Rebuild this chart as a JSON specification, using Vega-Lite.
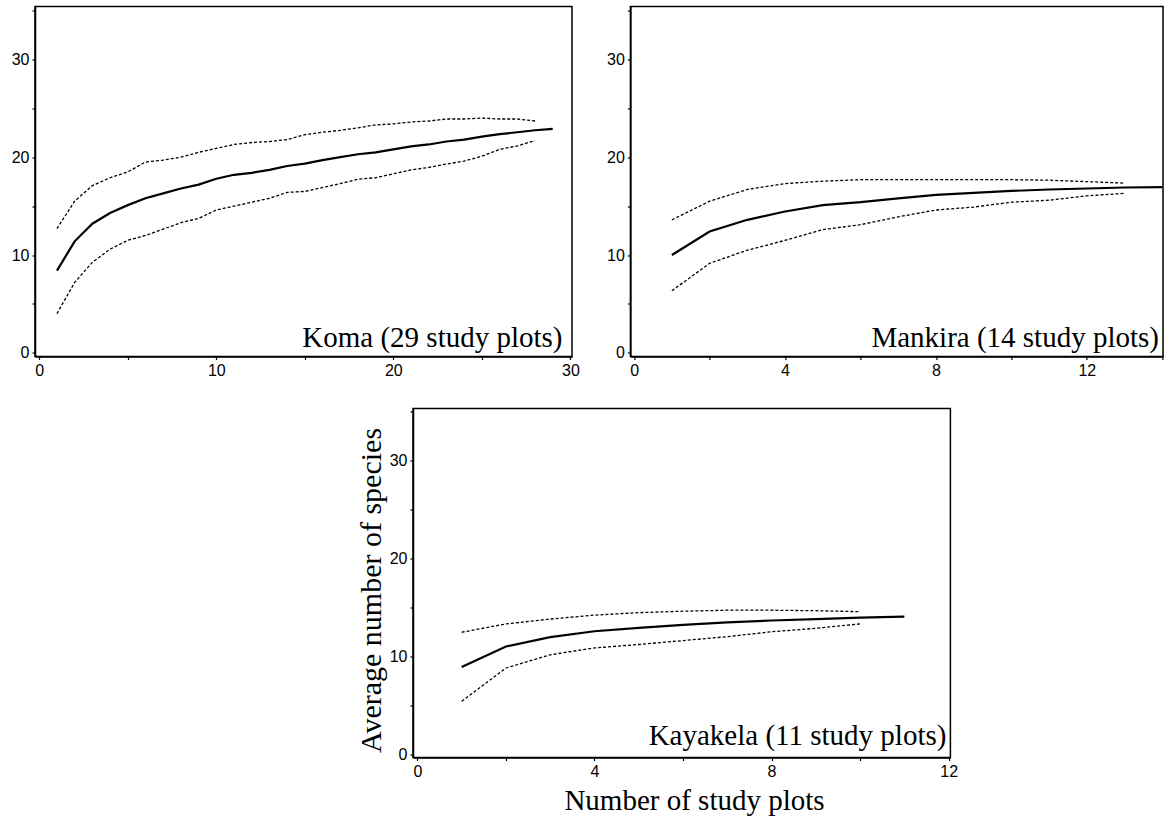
{
  "$schema": "https://vega.github.io/schema/vega-lite/v6.json",
  "background": "white",
  "padding": {"left": 10, "top": 1.5, "right": 4, "bottom": 0},
  "config": {
    "view": {"stroke": "black", "strokeWidth": 1.5},
    "axis": {
      "grid": false, "domainColor": "black", "domainWidth": 1.5, "tickColor": "black", "tickWidth": 1.2, "tickSize": 3,
      "labelColor": "black", "labelFont": "Liberation Sans", "labelFontSize": 16, "labelPadding": 3,
      "labelFlush": false, "labelOverlap": false, "titleColor": "black", "titleFont": "Liberation Serif",
      "titleFontSize": 29, "titleFontWeight": "normal"
    },
    "line": {"color": "black"}
  },
  "datasets": {
    "koma": [
      {"n": 1, "mean": 8.4, "upper": 12.7, "lower": 4.0},
      {"n": 2, "mean": 11.4, "upper": 15.5, "lower": 7.2},
      {"n": 3, "mean": 13.2, "upper": 17.1, "lower": 9.25},
      {"n": 4, "mean": 14.3, "upper": 17.9, "lower": 10.6},
      {"n": 5, "mean": 15.1, "upper": 18.5, "lower": 11.5},
      {"n": 6, "mean": 15.8, "upper": 19.5, "lower": 12.0},
      {"n": 7, "mean": 16.3, "upper": 19.7, "lower": 12.65},
      {"n": 8, "mean": 16.8, "upper": 20.0, "lower": 13.3},
      {"n": 9, "mean": 17.2, "upper": 20.5, "lower": 13.75},
      {"n": 10, "mean": 17.8, "upper": 20.9, "lower": 14.6},
      {"n": 11, "mean": 18.2, "upper": 21.3, "lower": 15.0},
      {"n": 12, "mean": 18.4, "upper": 21.5, "lower": 15.4},
      {"n": 13, "mean": 18.7, "upper": 21.6, "lower": 15.8},
      {"n": 14, "mean": 19.1, "upper": 21.8, "lower": 16.4},
      {"n": 15, "mean": 19.35, "upper": 22.3, "lower": 16.5},
      {"n": 16, "mean": 19.7, "upper": 22.55, "lower": 16.9},
      {"n": 17, "mean": 20.0, "upper": 22.75, "lower": 17.3},
      {"n": 18, "mean": 20.3, "upper": 23.0, "lower": 17.75},
      {"n": 19, "mean": 20.5, "upper": 23.3, "lower": 17.9},
      {"n": 20, "mean": 20.8, "upper": 23.4, "lower": 18.3},
      {"n": 21, "mean": 21.1, "upper": 23.6, "lower": 18.7},
      {"n": 22, "mean": 21.3, "upper": 23.7, "lower": 18.95},
      {"n": 23, "mean": 21.6, "upper": 23.9, "lower": 19.3},
      {"n": 24, "mean": 21.8, "upper": 23.9, "lower": 19.6},
      {"n": 25, "mean": 22.1, "upper": 24.0, "lower": 20.1},
      {"n": 26, "mean": 22.35, "upper": 23.9, "lower": 20.8},
      {"n": 27, "mean": 22.55, "upper": 23.9, "lower": 21.15},
      {"n": 28, "mean": 22.75, "upper": 23.7, "lower": 21.7},
      {"n": 29, "mean": 22.9, "upper": null, "lower": null}
    ],
    "mankira": [
      {"n": 1, "mean": 10.0, "upper": 13.6, "lower": 6.35},
      {"n": 2, "mean": 12.4, "upper": 15.5, "lower": 9.15},
      {"n": 3, "mean": 13.6, "upper": 16.7, "lower": 10.5},
      {"n": 4, "mean": 14.45, "upper": 17.3, "lower": 11.5},
      {"n": 5, "mean": 15.1, "upper": 17.55, "lower": 12.6},
      {"n": 6, "mean": 15.4, "upper": 17.7, "lower": 13.1},
      {"n": 7, "mean": 15.8, "upper": 17.7, "lower": 13.9},
      {"n": 8, "mean": 16.15, "upper": 17.7, "lower": 14.6},
      {"n": 9, "mean": 16.35, "upper": 17.7, "lower": 14.9},
      {"n": 10, "mean": 16.55, "upper": 17.7, "lower": 15.4},
      {"n": 11, "mean": 16.7, "upper": 17.65, "lower": 15.6},
      {"n": 12, "mean": 16.8, "upper": 17.5, "lower": 16.05},
      {"n": 13, "mean": 16.9, "upper": 17.35, "lower": 16.3},
      {"n": 14, "mean": 16.95, "upper": null, "lower": null}
    ],
    "kayakela": [
      {"n": 1, "mean": 8.9, "upper": 12.45, "lower": 5.4},
      {"n": 2, "mean": 11.0, "upper": 13.3, "lower": 8.8},
      {"n": 3, "mean": 11.95, "upper": 13.8, "lower": 10.15},
      {"n": 4, "mean": 12.55, "upper": 14.2, "lower": 10.85},
      {"n": 5, "mean": 12.9, "upper": 14.45, "lower": 11.2},
      {"n": 6, "mean": 13.2, "upper": 14.6, "lower": 11.6},
      {"n": 7, "mean": 13.45, "upper": 14.7, "lower": 12.0},
      {"n": 8, "mean": 13.65, "upper": 14.7, "lower": 12.5},
      {"n": 9, "mean": 13.8, "upper": 14.65, "lower": 12.85},
      {"n": 10, "mean": 13.95, "upper": 14.55, "lower": 13.3},
      {"n": 11, "mean": 14.05, "upper": null, "lower": null}
    ]
  },
  "vconcat": [
    {
      "hconcat": [
        {
          "width": 537, "height": 350,
          "layer": [
            {"data": {"name": "koma"},
             "mark": {"type": "line", "strokeWidth": 2.2},
             "encoding": {
               "x": {"field": "n", "type": "quantitative", "scale": {"domain": [-0.24, 30.09], "nice": false, "zero": false},
                 "axis": {"title": null, "values": [0, 5, 10, 15, 20, 25, 30], "labelExpr": "datum.value % 10 === 0 ? datum.label : ''"}},
               "y": {"field": "mean", "type": "quantitative", "scale": {"domain": [-0.37, 35.4], "nice": false, "zero": false},
               "axis": {"title": null, "values": [0, 5, 10, 15, 20, 25, 30, 35], "labelExpr": "datum.value % 10 === 0 ? datum.label : ''"}}}},
            {"data": {"name": "koma"},
             "mark": {"type": "line", "strokeWidth": 1.3, "strokeDash": [3, 2]},
             "encoding": {"x": {"field": "n", "type": "quantitative"}, "y": {"field": "upper", "type": "quantitative"}}},
            {"data": {"name": "koma"},
             "mark": {"type": "line", "strokeWidth": 1.3, "strokeDash": [3, 2]},
             "encoding": {"x": {"field": "n", "type": "quantitative"}, "y": {"field": "lower", "type": "quantitative"}}},
            {"data": {"values": [{"label": "Koma (29 study plots)", "px": 30.09, "py": -0.37}]},
             "mark": {"type": "text", "align": "right", "baseline": "bottom", "dx": -9.5, "dy": -4, "font": "Liberation Serif", "fontSize": 29, "fill": "black"},
             "encoding": {"x": {"field": "px", "type": "quantitative"}, "y": {"field": "py", "type": "quantitative"}, "text": {"field": "label"}}}
          ]
        },
        {
          "width": 532.6, "height": 350,
          "layer": [
            {"data": {"name": "mankira"},
             "mark": {"type": "line", "strokeWidth": 2.2},
             "encoding": {
               "x": {"field": "n", "type": "quantitative", "scale": {"domain": [-0.1, 14.02], "nice": false, "zero": false},
                 "axis": {"title": null, "values": [0, 2, 4, 6, 8, 10, 12, 14], "labelExpr": "datum.value % 4 === 0 ? datum.label : ''"}},
               "y": {"field": "mean", "type": "quantitative", "scale": {"domain": [-0.37, 35.4], "nice": false, "zero": false},
               "axis": {"title": null, "values": [0, 5, 10, 15, 20, 25, 30, 35], "labelExpr": "datum.value % 10 === 0 ? datum.label : ''"}}}},
            {"data": {"name": "mankira"},
             "mark": {"type": "line", "strokeWidth": 1.3, "strokeDash": [3, 2]},
             "encoding": {"x": {"field": "n", "type": "quantitative"}, "y": {"field": "upper", "type": "quantitative"}}},
            {"data": {"name": "mankira"},
             "mark": {"type": "line", "strokeWidth": 1.3, "strokeDash": [3, 2]},
             "encoding": {"x": {"field": "n", "type": "quantitative"}, "y": {"field": "lower", "type": "quantitative"}}},
            {"data": {"values": [{"label": "Mankira (14 study plots)", "px": 14.02, "py": -0.37}]},
             "mark": {"type": "text", "align": "right", "baseline": "bottom", "dx": -4, "dy": -4, "font": "Liberation Serif", "fontSize": 29, "fill": "black"},
             "encoding": {"x": {"field": "px", "type": "quantitative"}, "y": {"field": "py", "type": "quantitative"}, "text": {"field": "label"}}}
          ]
        }
      ],
      "spacing": 58.4,
      "bounds": "flush"
    },
    {
      "hconcat": [
        {
          "width": 377.8, "height": 349,
          "data": {"values": []},
          "mark": "point",
          "encoding": {},
          "view": {"stroke": null}
        },
        {
          "width": 537.4, "height": 349,
          "layer": [
            {"data": {"name": "kayakela"},
             "mark": {"type": "line", "strokeWidth": 2.2},
             "encoding": {
               "x": {"field": "n", "type": "quantitative", "scale": {"domain": [-0.1, 12.04], "nice": false, "zero": false},
                 "axis": {"title": "Number of study plots", "titlePadding": 7, "titleX": 281, "values": [0, 2, 4, 6, 8, 10, 12], "labelExpr": "datum.value % 4 === 0 ? datum.label : ''"}},
               "y": {"field": "mean", "type": "quantitative", "scale": {"domain": [-0.34, 35.3], "nice": false, "zero": false},
               "axis": {"title": "Average number of species", "titleFontSize": 30, "titlePadding": 3, "titleY": 181.5, "values": [0, 5, 10, 15, 20, 25, 30, 35], "labelExpr": "datum.value % 10 === 0 ? datum.label : ''"}}}},
            {"data": {"name": "kayakela"},
             "mark": {"type": "line", "strokeWidth": 1.3, "strokeDash": [3, 2]},
             "encoding": {"x": {"field": "n", "type": "quantitative"}, "y": {"field": "upper", "type": "quantitative"}}},
            {"data": {"name": "kayakela"},
             "mark": {"type": "line", "strokeWidth": 1.3, "strokeDash": [3, 2]},
             "encoding": {"x": {"field": "n", "type": "quantitative"}, "y": {"field": "lower", "type": "quantitative"}}},
            {"data": {"values": [{"label": "Kayakela (11 study plots)", "px": 12.04, "py": -0.34}]},
             "mark": {"type": "text", "align": "right", "baseline": "bottom", "dx": -4, "dy": -7, "font": "Liberation Serif", "fontSize": 29, "fill": "black"},
             "encoding": {"x": {"field": "px", "type": "quantitative"}, "y": {"field": "py", "type": "quantitative"}, "text": {"field": "label"}}}
          ]
        }
      ],
      "spacing": 0,
      "bounds": "flush"
    }
  ],
  "spacing": 23
}
